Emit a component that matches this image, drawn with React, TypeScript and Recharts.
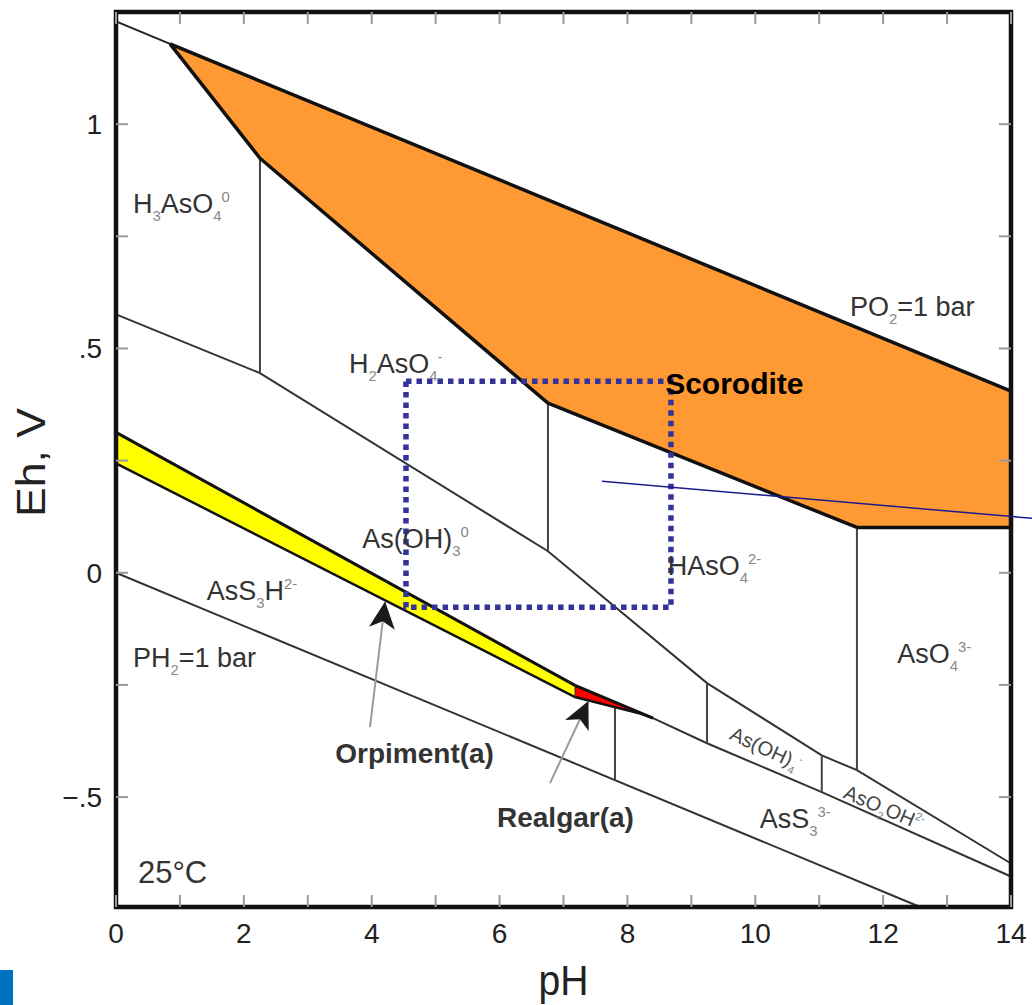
import React from 'react';
import { ComposedChart, Line, Area, XAxis, YAxis, ReferenceLine, Scatter } from 'recharts';

const FONT = '"Liberation Sans", Arial, Helvetica, sans-serif';

// ---- axes ----
const PH_DOMAIN: [number, number] = [0, 14];
const EH_DOMAIN: [number, number] = [-0.745, 1.25];
const PH_TICKS = [0, 1, 2, 3, 4, 5, 6, 7, 8, 9, 10, 11, 12, 13, 14];
const PH_TICK_LABELS = [0, 2, 4, 6, 8, 10, 12, 14];
const EH_TICKS = [-0.5, -0.25, 0, 0.25, 0.5, 0.75, 1];
const EH_TICK_LABELS: [number, string][] = [[1, '1'], [0.5, '.5'], [0, '0'], [-0.5, '\u2212.5']];

// ---- boundary lines (pH, Eh) ----
const o2Thin = [{ ph: 0, eh: 1.229 }, { ph: 0.845, eh: 1.179 }];
const o2Bold = [{ ph: 0.845, eh: 1.179 }, { ph: 14, eh: 0.405 }];
const scoroditeBase = [
  { ph: 0.845, eh: 1.179 }, { ph: 2.252, eh: 0.924 }, { ph: 6.757, eh: 0.378 },
  { ph: 11.59, eh: 0.101 }, { ph: 14, eh: 0.101 },
];
const scoroditeFill = [
  { ph: 0.845, range: [1.179, 1.179] }, { ph: 2.252, range: [0.924, 1.096] },
  { ph: 6.757, range: [0.378, 0.831] }, { ph: 11.59, range: [0.101, 0.547] },
  { ph: 14, range: [0.101, 0.405] },
];
const asVAsIII = [
  { ph: 0, eh: 0.576 }, { ph: 2.252, eh: 0.445 }, { ph: 6.757, eh: 0.048 },
  { ph: 9.245, eh: -0.246 }, { ph: 11.04, eh: -0.407 }, { ph: 11.59, eh: -0.44 }, { ph: 14, eh: -0.648 },
];
const asIIISulfide = [
  { ph: 8.4, eh: -0.324 }, { ph: 9.245, eh: -0.38 }, { ph: 11.04, eh: -0.489 }, { ph: 14, eh: -0.677 },
];
const h2Line = [{ ph: 0, eh: 0 }, { ph: 12.58, eh: -0.745 }];
const orpimentTop = [{ ph: 0, eh: 0.313 }, { ph: 7.18, eh: -0.251 }, { ph: 8.4, eh: -0.324 }];
const orpimentBottom = [{ ph: 0, eh: 0.244 }, { ph: 7.18, eh: -0.277 }, { ph: 8.2, eh: -0.314 }, { ph: 8.4, eh: -0.324 }];
const orpimentFill = [{ ph: 0, range: [0.244, 0.313] }, { ph: 7.18, range: [-0.277, -0.251] }];
const realgarFill = [
  { ph: 7.18, range: [-0.277, -0.251] }, { ph: 8.2, range: [-0.314, -0.313] }, { ph: 8.4, range: [-0.324, -0.324] },
];
const realgarDivider = [{ ph: 7.18, eh: -0.251 }, { ph: 7.18, eh: -0.277 }];

// vertical boundaries: [pH, top Eh, bottom Eh]
const verticals: [number, number, number][] = [
  [2.252, 0.924, 0.445],
  [6.757, 0.378, 0.048],
  [9.245, -0.246, -0.38],
  [11.04, -0.407, -0.489],
  [11.59, 0.101, -0.44],
  [7.805, -0.3, -0.462],
];

// dotted zoom box and pointer
const zoomBoxPh: [number, number] = [4.536, 8.681];
const zoomBoxEh: [number, number] = [-0.077, 0.427];
const pointer = [{ ph: 7.602, eh: 0.204 }, { ph: 14.33, eh: 0.1215 }];

// arrows (tail -> tip)
const orpimentArrow = [{ ph: 3.973, eh: -0.344 }, { ph: 4.208, eh: -0.066 }];
const realgarArrow = [{ ph: 6.789, eh: -0.469 }, { ph: 7.383, eh: -0.288 }];

// ---- text labels ----
type Part = { t: string; k?: 'sub' | 'sup' };
type Lbl = { ph: number; eh: number; parts: Part[]; kind: string; angle?: number };
const labels: Lbl[] = [
  { ph: 0.266, eh: 0.802, kind: 'species', parts: [{ t: 'H' }, { t: '3', k: 'sub' }, { t: 'AsO' }, { t: '4', k: 'sub' }, { t: '0', k: 'sup' }] },
  { ph: 3.645, eh: 0.445, kind: 'species', parts: [{ t: 'H' }, { t: '2', k: 'sub' }, { t: 'AsO' }, { t: '4', k: 'sub' }, { t: '-', k: 'sup' }] },
  { ph: 3.85, eh: 0.055, kind: 'species', parts: [{ t: 'As(OH)' }, { t: '3', k: 'sub' }, { t: '0', k: 'sup' }] },
  { ph: 8.63, eh: -0.006, kind: 'species', parts: [{ t: 'HAsO' }, { t: '4', k: 'sub' }, { t: '2-', k: 'sup' }] },
  { ph: 12.22, eh: -0.202, kind: 'species', parts: [{ t: 'AsO' }, { t: '4', k: 'sub' }, { t: '3-', k: 'sup' }] },
  { ph: 1.42, eh: -0.061, kind: 'species', parts: [{ t: 'AsS' }, { t: '3', k: 'sub' }, { t: 'H' }, { t: '2-', k: 'sup' }] },
  { ph: 0.266, eh: -0.21, kind: 'species', parts: [{ t: 'PH' }, { t: '2', k: 'sub' }, { t: '=1 bar' }] },
  { ph: 11.48, eh: 0.572, kind: 'species', parts: [{ t: 'PO' }, { t: '2', k: 'sub' }, { t: '=1 bar' }] },
  { ph: 10.07, eh: -0.57, kind: 'species', parts: [{ t: 'AsS' }, { t: '3', k: 'sub' }, { t: '3-', k: 'sup' }] },
  { ph: 9.58, eh: -0.37, kind: 'small', angle: 25, parts: [{ t: 'As(OH)' }, { t: '4', k: 'sub' }, { t: '-', k: 'sup' }] },
  { ph: 11.36, eh: -0.501, kind: 'small', angle: 23, parts: [{ t: 'AsO' }, { t: '2', k: 'sub' }, { t: 'OH' }, { t: '2-', k: 'sup' }] },
  { ph: 8.59, eh: 0.398, kind: 'mineral', parts: [{ t: 'Scorodite' }] },
  { ph: 3.43, eh: -0.425, kind: 'bold', parts: [{ t: 'Orpiment(a)' }] },
  { ph: 5.96, eh: -0.567, kind: 'bold', parts: [{ t: 'Realgar(a)' }] },
  { ph: 0.344, eh: -0.692, kind: 'temp', parts: [{ t: '25°C' }] },
];

const labelStyles: Record<string, { size: number; weight: string; fill: string }> = {
  species: { size: 27, weight: 'normal', fill: '#333' },
  small: { size: 20, weight: 'normal', fill: '#444' },
  mineral: { size: 30, weight: 'bold', fill: '#000' },
  bold: { size: 28, weight: 'bold', fill: '#333' },
  temp: { size: 31, weight: 'normal', fill: '#333' },
};

const renderLabel = (props: any) => {
  const { cx, cy, payload } = props;
  if (cx == null || cy == null) return <g />;
  const st = labelStyles[payload.kind];
  const fs = st.size;
  let shift = 0;
  const spans = payload.parts.map((p: Part, i: number) => {
    const target = p.k === 'sub' ? fs * 0.28 : p.k === 'sup' ? -fs * 0.42 : 0;
    const dy = target - shift;
    shift = target;
    return (
      <tspan key={i} dy={dy} fontSize={p.k ? fs * 0.55 : fs} fill={p.k ? '#888' : st.fill}>
        {p.t}
      </tspan>
    );
  });
  return (
    <text
      x={cx}
      y={cy}
      fontFamily={FONT}
      fontSize={fs}
      fontWeight={st.weight}
      fill={st.fill}
      transform={payload.angle ? `rotate(${payload.angle}, ${cx}, ${cy})` : undefined}
    >
      {spans}
    </text>
  );
};

const frame = [
  { ph: PH_DOMAIN[0], eh: EH_DOMAIN[0] },
  { ph: PH_DOMAIN[1], eh: EH_DOMAIN[0] },
  { ph: PH_DOMAIN[1], eh: EH_DOMAIN[1] },
  { ph: PH_DOMAIN[0], eh: EH_DOMAIN[1] },
  { ph: PH_DOMAIN[0], eh: EH_DOMAIN[0] },
];
const zoomBox = [
  { ph: zoomBoxPh[0], eh: zoomBoxEh[1] },
  { ph: zoomBoxPh[1], eh: zoomBoxEh[1] },
  { ph: zoomBoxPh[1], eh: zoomBoxEh[0] },
  { ph: zoomBoxPh[0], eh: zoomBoxEh[0] },
  { ph: zoomBoxPh[0], eh: zoomBoxEh[1] },
];

const phFmt = (v: number) => (PH_TICK_LABELS.includes(v) ? String(v) : '');
const ehFmt = (v: number) => {
  const f = EH_TICK_LABELS.find((e) => Math.abs(e[0] - v) < 1e-9);
  return f ? f[1] : '';
};
const tickStyle = { fill: '#222', fontSize: 28, fontFamily: FONT };
const tickLineStyle = { stroke: '#999', strokeWidth: 2 };

const PhTitle = (props: any) => {
  const vb = props.viewBox || { x: 0, y: 0, width: 0, height: 0 };
  return (
    <text x={vb.x + vb.width / 2} y={vb.y + vb.height - 10} textAnchor="middle" fontFamily={FONT}
      fontSize={43} fill="#222" textLength={50} lengthAdjust="spacingAndGlyphs">pH</text>
  );
};
const EhTitle = (props: any) => {
  const vb = props.viewBox || { x: 0, y: 0, width: 0, height: 0 };
  const x = vb.x + 45;
  const y = vb.y + vb.height / 2 + 3;
  return (
    <text x={x} y={y} textAnchor="middle" fontFamily={FONT} fontSize={40} fill="#222"
      transform={`rotate(-90, ${x}, ${y})`} textLength={109} lengthAdjust="spacingAndGlyphs">Eh, V</text>
  );
};

export default function App() {
  const thinLine = { stroke: '#333', strokeWidth: 2, dot: false, isAnimationActive: false, type: 'linear' as const };
  return (
    <div style={{ position: 'absolute', left: 0, top: 0, width: 1032, height: 1005, background: '#fff' }}>
      <svg width={0} height={0} style={{ position: 'absolute' }}>
        <defs>
          <marker id="arrowHead" markerUnits="userSpaceOnUse" markerWidth={28} markerHeight={28}
            viewBox="0 0 28 28" refX={26} refY={14} orient="auto">
            <path d="M0,1 L27,14 L0,27 L7,14 Z" fill="#1a1a1a" />
          </marker>
        </defs>
      </svg>
      <div style={{ position: 'absolute', left: 0, top: 970, width: 13, height: 35, background: '#0070C0' }} />
      <ComposedChart width={1032} height={1005} margin={{ top: 0, right: 0, bottom: 0, left: 0 }}>
        <XAxis xAxisId="bottom" type="number" dataKey="ph" domain={PH_DOMAIN} ticks={PH_TICKS} interval={0}
          orientation="bottom" height={98} tickSize={-12} tickMargin={28} tickFormatter={phFmt}
          tick={tickStyle} tickLine={tickLineStyle} axisLine={false} label={<PhTitle />} />
        <XAxis xAxisId="top" type="number" dataKey="ph" domain={PH_DOMAIN} ticks={PH_TICKS} interval={0}
          orientation="top" height={12} tickSize={-12} tickFormatter={() => ''}
          tickLine={tickLineStyle} axisLine={false} />
        <YAxis yAxisId="left" type="number" dataKey="eh" domain={EH_DOMAIN} ticks={EH_TICKS} interval={0}
          orientation="left" width={116} tickSize={-12} tickMargin={26} tickFormatter={ehFmt}
          tick={tickStyle} tickLine={tickLineStyle} axisLine={false} label={<EhTitle />} />
        <YAxis yAxisId="right" type="number" dataKey="eh" domain={EH_DOMAIN} ticks={EH_TICKS} interval={0}
          orientation="right" width={21} tickSize={-12} tickFormatter={() => ''}
          tickLine={tickLineStyle} axisLine={false} />

        {/* fills */}
        <Area xAxisId="bottom" yAxisId="left" data={scoroditeFill} dataKey="range" type="linear"
          fill="#FF9933" fillOpacity={1} stroke="none" isAnimationActive={false} />
        <Area xAxisId="bottom" yAxisId="left" data={orpimentFill} dataKey="range" type="linear"
          fill="#FFFF00" fillOpacity={1} stroke="none" isAnimationActive={false} />
        <Area xAxisId="bottom" yAxisId="left" data={realgarFill} dataKey="range" type="linear"
          fill="#FF0000" fillOpacity={1} stroke="none" isAnimationActive={false} />

        {/* thin aqueous boundaries */}
        <Line xAxisId="bottom" yAxisId="left" data={asVAsIII} dataKey="eh" {...thinLine} />
        <Line xAxisId="bottom" yAxisId="left" data={asIIISulfide} dataKey="eh" {...thinLine} />
        <Line xAxisId="bottom" yAxisId="left" data={h2Line} dataKey="eh" {...thinLine} />
        <Line xAxisId="bottom" yAxisId="left" data={o2Thin} dataKey="eh" {...thinLine} stroke="#222" />
        {verticals.map((v, i) => (
          <Line key={'v' + i} xAxisId="bottom" yAxisId="left"
            data={[{ ph: v[0], eh: v[1] }, { ph: v[0], eh: v[2] }]} dataKey="eh" {...thinLine} stroke="#444" />
        ))}

        {/* bold mineral boundaries */}
        <Line xAxisId="bottom" yAxisId="left" data={o2Bold} dataKey="eh" stroke="#111" strokeWidth={3.5}
          dot={false} isAnimationActive={false} type="linear" />
        <Line xAxisId="bottom" yAxisId="left" data={scoroditeBase} dataKey="eh" stroke="#111" strokeWidth={3.5}
          dot={false} isAnimationActive={false} type="linear" strokeLinejoin="round" />
        <Line xAxisId="bottom" yAxisId="left" data={orpimentTop} dataKey="eh" stroke="#111" strokeWidth={3}
          dot={false} isAnimationActive={false} type="linear" />
        <Line xAxisId="bottom" yAxisId="left" data={orpimentBottom} dataKey="eh" stroke="#111" strokeWidth={2.5}
          dot={false} isAnimationActive={false} type="linear" />
        <Line xAxisId="bottom" yAxisId="left" data={realgarDivider} dataKey="eh" stroke="#333" strokeWidth={1}
          dot={false} isAnimationActive={false} type="linear" />

        {/* arrows */}
        <Line xAxisId="bottom" yAxisId="left" data={orpimentArrow} dataKey="eh" stroke="#9a9a9a" strokeWidth={2}
          dot={false} isAnimationActive={false} type="linear" markerEnd="url(#arrowHead)" />
        <Line xAxisId="bottom" yAxisId="left" data={realgarArrow} dataKey="eh" stroke="#9a9a9a" strokeWidth={2}
          dot={false} isAnimationActive={false} type="linear" markerEnd="url(#arrowHead)" />

        {/* dotted zoom box */}
        <Line xAxisId="bottom" yAxisId="left" data={zoomBox} dataKey="eh" stroke="#333399" strokeWidth={5.5}
          strokeDasharray="5.5 5" dot={false} isAnimationActive={false} type="linear" />

        {/* frame */}
        <Line xAxisId="top" yAxisId="right" data={frame} dataKey="eh" stroke="#111" strokeWidth={4.5}
          strokeLinecap="square" dot={false} isAnimationActive={false} type="linear" />

        {/* pointer line */}
        <ReferenceLine xAxisId="bottom" yAxisId="left" segment={[{ x: pointer[0].ph, y: pointer[0].eh }, { x: pointer[1].ph, y: pointer[1].eh }]}
          stroke="#1a1a8c" strokeWidth={1.5} ifOverflow="visible" />

        {/* labels */}
        <Scatter xAxisId="bottom" yAxisId="left" data={labels} dataKey="eh" shape={renderLabel} isAnimationActive={false} />
      </ComposedChart>
    </div>
  );
}
